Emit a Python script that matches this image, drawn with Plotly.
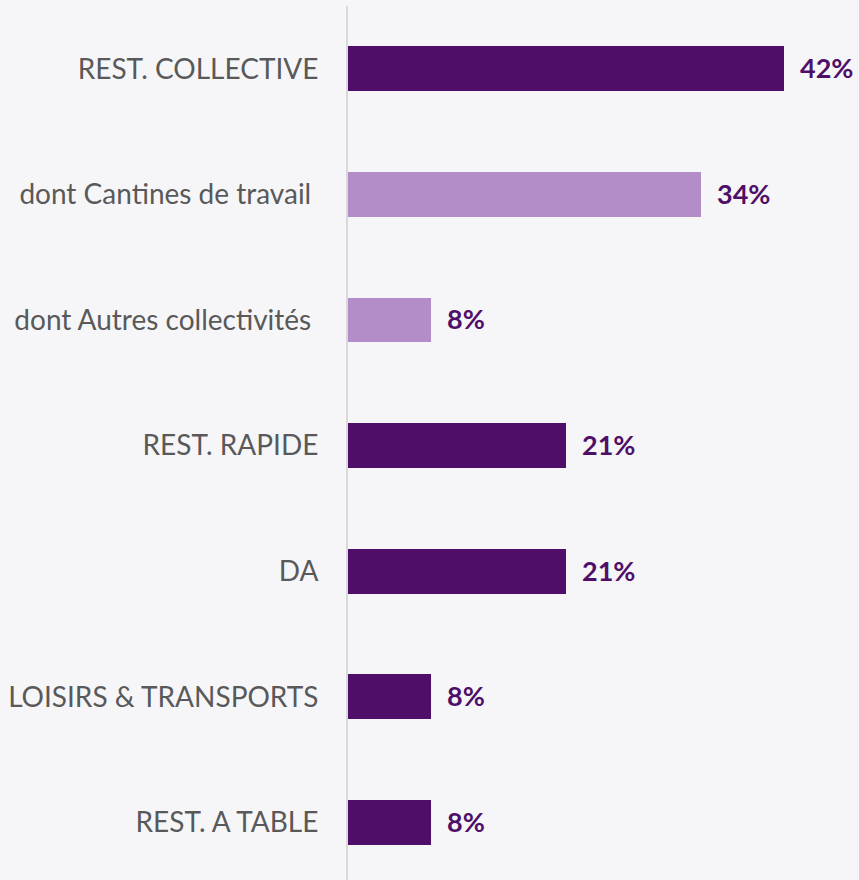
import plotly.graph_objects as go

categories = [
    "REST. COLLECTIVE",
    "dont Cantines de travail ",
    "dont Autres collectivités ",
    "REST. RAPIDE",
    "DA",
    "LOISIRS & TRANSPORTS",
    "REST. A TABLE",
]
values = [42, 34, 8, 21, 21, 8, 8]
is_subgroup = [False, True, True, False, False, False, False]

DARK = "#4f0f69"
LIGHT = "#b28dc7"
BG = "#f6f6f9"

bar_colors = [LIGHT if sub else DARK for sub in is_subgroup]
positions = list(range(len(categories)))

fig = go.Figure(
    go.Bar(
        x=values,
        y=positions,
        orientation="h",
        marker=dict(color=bar_colors, line=dict(width=0)),
        width=0.358,
        hoverinfo="skip",
    )
)

# value labels placed just past each bar end
for pos, val in zip(positions, values):
    fig.add_annotation(
        x=val,
        y=pos,
        text=f"<b>{val}%</b>",
        showarrow=False,
        xanchor="left",
        yanchor="middle",
        xshift=14,
        yshift=1,
        font=dict(family="Lato", size=27, color=DARK),
    )

fig.update_layout(
    width=859,
    height=880,
    margin=dict(l=348, r=0, t=6, b=0),
    paper_bgcolor=BG,
    plot_bgcolor=BG,
    showlegend=False,
    bargap=0,
)
fig.update_xaxes(
    range=[0, 49.2],
    showgrid=False,
    zeroline=False,
    showticklabels=False,
    showline=False,
)
fig.update_yaxes(
    tickmode="array",
    tickvals=positions,
    ticktext=categories,
    range=[6.459, -0.5],
    showgrid=False,
    zeroline=False,
    showline=True,
    linecolor="#d9d9d9",
    linewidth=2,
    ticks="",
    ticklabelstandoff=22,
    tickfont=dict(family="Lato", size=28, color="#595959"),
)

fig.write_html("out.html")
